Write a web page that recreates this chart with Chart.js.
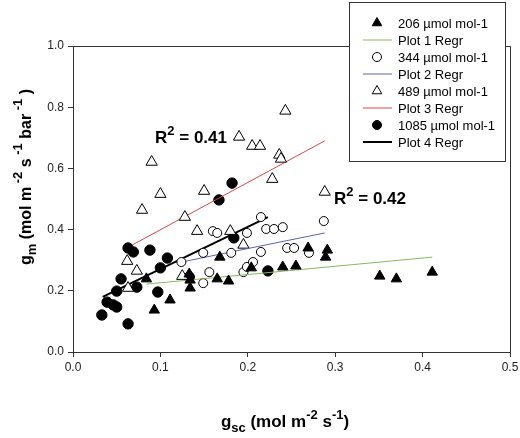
<!DOCTYPE html>
<html>
<head>
<meta charset="utf-8">
<script src="https://cdn.jsdelivr.net/npm/chart.js@4"></script>
<style>
  html, body { margin: 0; padding: 0; background: #fff; }
</style>
</head>
<body>
<canvas id="gmChart" width="520" height="438"></canvas>
<script>
// tick labels
const xTicks = [0.0, 0.1, 0.2, 0.3, 0.4, 0.5];
const yTicks = [0.0, 0.2, 0.4, 0.6, 0.8, 1.0];

// series names
const seriesLabels = ['206 µmol mol-1', '344 µmol mol-1', '489 µmol mol-1', '1085 µmol mol-1'];
const regrLabels = ['Plot 1 Regr', 'Plot 2 Regr', 'Plot 3 Regr', 'Plot 4 Regr'];

// 206 µmol mol-1 (filled triangles)
const gsc206 = [0.084, 0.093, 0.111, 0.133, 0.134, 0.134, 0.165, 0.168, 0.178, 0.204, 0.240, 0.255, 0.269, 0.291, 0.289, 0.351, 0.370, 0.411];
const gm206  = [0.239, 0.137, 0.170, 0.255, 0.235, 0.209, 0.239, 0.310, 0.232, 0.275, 0.278, 0.281, 0.340, 0.333, 0.310, 0.248, 0.239, 0.261];

// 344 µmol mol-1 (open circles)
const gsc344 = [0.124, 0.149, 0.156, 0.149, 0.160, 0.165, 0.181, 0.195, 0.199, 0.206, 0.199, 0.215, 0.215, 0.221, 0.230, 0.240, 0.245, 0.253, 0.270, 0.287];
const gm344  = [0.294, 0.324, 0.261, 0.225, 0.395, 0.389, 0.324, 0.261, 0.278, 0.294, 0.389, 0.441, 0.327, 0.402, 0.402, 0.408, 0.340, 0.340, 0.324, 0.428];

// 489 µmol mol-1 (open triangles)
const gsc489 = [0.062, 0.073, 0.063, 0.079, 0.090, 0.100, 0.125, 0.128, 0.142, 0.150, 0.180, 0.190, 0.195, 0.205, 0.214, 0.228, 0.236, 0.238, 0.243, 0.288];
const gm489  = [0.297, 0.265, 0.209, 0.464, 0.621, 0.516, 0.248, 0.441, 0.395, 0.526, 0.395, 0.703, 0.350, 0.673, 0.673, 0.565, 0.644, 0.631, 0.788, 0.523];

// 1085 µmol mol-1 (filled circles)
const gsc1085 = [0.033, 0.039, 0.046, 0.050, 0.050, 0.055, 0.063, 0.063, 0.069, 0.073, 0.088, 0.097, 0.100, 0.108, 0.133, 0.167, 0.182, 0.184, 0.223];
const gm1085  = [0.121, 0.163, 0.154, 0.147, 0.199, 0.239, 0.092, 0.340, 0.327, 0.212, 0.333, 0.196, 0.275, 0.307, 0.245, 0.497, 0.552, 0.373, 0.265];

// regression line end points
const regr1X = [0.084, 0.411], regr1Y = [0.222, 0.310];
const regr2X = [0.124, 0.288], regr2Y = [0.294, 0.389];
const regr3X = [0.068, 0.288], regr3Y = [0.350, 0.690];
const regr4X = [0.034, 0.223], regr4Y = [0.180, 0.441];

const pts = (xs, ys) => xs.map((x, i) => ({ x: x, y: ys[i] }));

function scatterSet(label, xs, ys, style, radius, fill) {
  return {
    type: 'scatter', label: label, data: pts(xs, ys),
    pointStyle: style, pointRadius: radius, pointHoverRadius: radius,
    backgroundColor: fill, borderColor: '#000', borderWidth: 1
  };
}
function lineSet(label, xs, ys, color, width) {
  return {
    type: 'line', label: label, data: pts(xs, ys),
    borderColor: color, borderWidth: width, pointRadius: 0, fill: false, tension: 0
  };
}

const datasets = [
  scatterSet(seriesLabels[0], gsc206, gm206, 'triangle', 6, '#000'),
  lineSet(regrLabels[0], regr1X, regr1Y, '#86b860', 1),
  scatterSet(seriesLabels[1], gsc344, gm344, 'circle', 4.5, '#fff'),
  lineSet(regrLabels[1], regr2X, regr2Y, '#5a66a8', 1),
  scatterSet(seriesLabels[2], gsc489, gm489, 'triangle', 6.5, '#fff'),
  lineSet(regrLabels[2], regr3X, regr3Y, '#d84848', 1),
  scatterSet(seriesLabels[3], gsc1085, gm1085, 'circle', 5.2, '#000'),
  lineSet(regrLabels[3], regr4X, regr4Y, '#000', 2)
];

// text with sub/superscripts
function richWidth(ctx, parts) {
  let w = 0;
  parts.forEach(p => { ctx.font = 'bold ' + p.s + 'px "Liberation Sans", Arial, sans-serif'; w += ctx.measureText(p.t).width; });
  return w;
}
function drawRich(ctx, parts, x, y) {
  let cx = x;
  parts.forEach(p => {
    ctx.font = 'bold ' + p.s + 'px "Liberation Sans", Arial, sans-serif';
    ctx.fillText(p.t, cx, y + (p.dy || 0));
    cx += ctx.measureText(p.t).width;
  });
}

const xTitle = [
  { t: 'g', s: 17 }, { t: 'sc', s: 13, dy: 5 }, { t: ' (mol m', s: 17 }, { t: '-2', s: 13, dy: -8 },
  { t: ' s', s: 17 }, { t: '-1', s: 13, dy: -8 }, { t: ')', s: 17 }
];
const yTitle = [
  { t: 'g', s: 16 }, { t: 'm', s: 13, dy: 5 }, { t: ' (mol m', s: 16 }, { t: ' -2', s: 13, dy: -9 },
  { t: ' s', s: 16 }, { t: ' -1', s: 13, dy: -9 }, { t: ' bar', s: 16 }, { t: ' -1', s: 13, dy: -9 }, { t: ' )', s: 16 }
];
const r2a = [{ t: 'R', s: 17 }, { t: '2', s: 13, dy: -8 }, { t: ' = 0.41', s: 17 }];
const r2b = [{ t: 'R', s: 17 }, { t: '2', s: 13, dy: -8 }, { t: ' = 0.42', s: 17 }];

const decorPlugin = {
  id: 'decor',
  afterDraw(chart) {
    const ctx = chart.ctx;
    const a = chart.chartArea;
    ctx.save();
    // frame top and right
    ctx.strokeStyle = '#333';
    ctx.lineWidth = 1;
    ctx.beginPath();
    ctx.moveTo(a.left, a.top + 0.5);
    ctx.lineTo(a.right + 0.5, a.top + 0.5);
    ctx.lineTo(a.right + 0.5, a.bottom);
    ctx.stroke();

    ctx.fillStyle = '#000';
    ctx.textBaseline = 'alphabetic';
    // axis titles
    const xw = richWidth(ctx, xTitle);
    drawRich(ctx, xTitle, 285 - xw / 2, 427);
    ctx.save();
    ctx.translate(31, 177);
    ctx.rotate(-Math.PI / 2);
    const yw = richWidth(ctx, yTitle);
    drawRich(ctx, yTitle, -yw / 2, 0);
    ctx.restore();

    // R² annotations
    drawRich(ctx, r2a, 155, 143);
    drawRich(ctx, r2b, 334, 204);

    // legend box
    const lx = 349, ly = 2, lw = 156, lh = 159;
    ctx.fillStyle = '#fff';
    ctx.fillRect(lx, ly, lw, lh);
    ctx.strokeStyle = '#333';
    ctx.strokeRect(lx + 0.5, ly + 0.5, lw, lh);
    ctx.font = '13px "Liberation Sans", Arial, sans-serif';
    ctx.textBaseline = 'middle';
    chart.data.datasets.forEach((ds, i) => {
      const y = 23 + i * 17;
      if (ds.type === 'line') {
        ctx.strokeStyle = ds.borderColor;
        ctx.lineWidth = ds.borderWidth;
        ctx.beginPath();
        ctx.moveTo(363, y);
        ctx.lineTo(392, y);
        ctx.stroke();
      } else {
        ctx.fillStyle = ds.backgroundColor;
        ctx.strokeStyle = '#000';
        ctx.lineWidth = 1;
        ctx.beginPath();
        const r = ds.pointStyle === 'triangle' ? 5.5 : 4.5;
        if (ds.pointStyle === 'triangle') {
          for (let k = 0; k < 3; k++) {
            const ang = k * 2 * Math.PI / 3;
            const px = 377 + Math.sin(ang) * r, py = y - Math.cos(ang) * r;
            if (k === 0) ctx.moveTo(px, py); else ctx.lineTo(px, py);
          }
          ctx.closePath();
        } else {
          ctx.arc(377, y, r, 0, 2 * Math.PI);
        }
        ctx.fill();
        ctx.stroke();
      }
      ctx.fillStyle = '#000';
      ctx.fillText(ds.label, 398, y + 1);
    });
    ctx.restore();
  }
};

new Chart(document.getElementById('gmChart').getContext('2d'), {
  data: { datasets: datasets },
  options: {
    responsive: false,
    animation: false,
    layout: { padding: { top: 46, right: 10, left: 0, bottom: 0 } },
    plugins: { legend: { display: false }, tooltip: { enabled: false } },
    scales: {
      x: {
        type: 'linear', min: 0, max: 0.5,
        afterBuildTicks: s => { s.ticks = xTicks.map(v => ({ value: v })); },
        afterFit: s => { s.height = 86; s.paddingLeft = 0; s.paddingRight = 0; },
        ticks: { callback: v => v.toFixed(1), color: '#222', padding: 3, maxRotation: 0,
                 font: { size: 12, family: '"Liberation Sans", Arial, sans-serif' } },
        grid: { drawOnChartArea: false, tickLength: 5, color: '#333' },
        border: { color: '#333' }
      },
      y: {
        type: 'linear', min: 0, max: 1,
        afterBuildTicks: s => { s.ticks = yTicks.map(v => ({ value: v })); },
        afterFit: s => { s.width = 73; s.paddingTop = 0; s.paddingBottom = 0; },
        ticks: { callback: v => v.toFixed(1), color: '#222', padding: 4,
                 font: { size: 12, family: '"Liberation Sans", Arial, sans-serif' } },
        grid: { drawOnChartArea: false, tickLength: 5, color: '#333' },
        border: { color: '#333' }
      }
    }
  },
  plugins: [decorPlugin]
});
</script>
</body>
</html>
